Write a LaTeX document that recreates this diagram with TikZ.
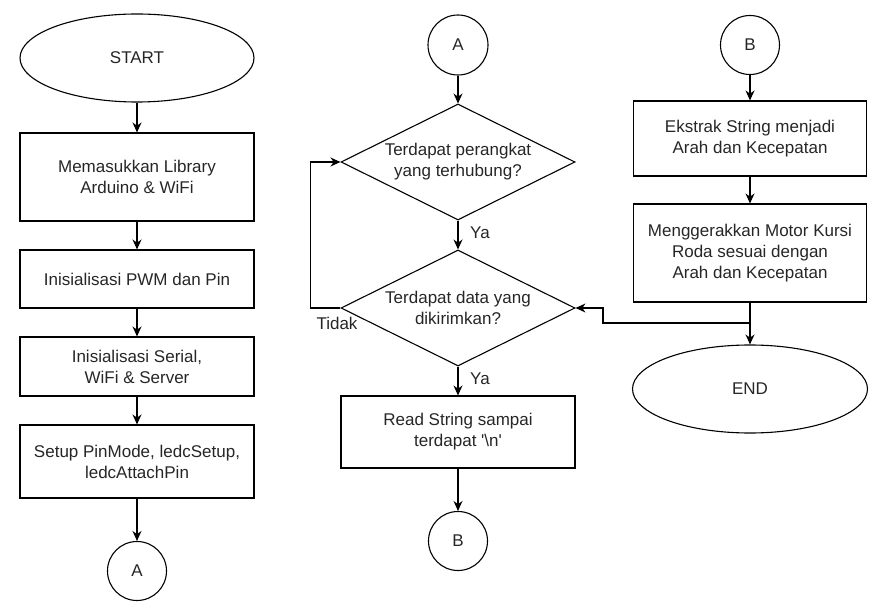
\documentclass[tikz,border=0pt]{standalone}
\usepackage{fontspec}
\newfontfamily\plainsans{Liberation Sans}
\usetikzlibrary{arrows.meta,shapes.geometric}

\begin{document}
\begin{tikzpicture}[x=1pt,y=-1pt,line width=1.1pt,
	every node/.style={font=\plainsans\fontsize{17}{21}\selectfont,text=black!85,align=center},
	proc/.style={draw=black,minimum width=234pt,inner sep=0pt},
	term/.style={draw=black,ellipse,minimum width=234pt,minimum height=88pt,inner sep=0pt},
	conn/.style={draw=black,circle,minimum size=59pt,inner sep=0pt},
	dec/.style={draw=black,diamond,aspect=2.017,minimum width=234pt,minimum height=116pt,inner sep=-6pt},
	arr/.style={-{Stealth[length=10pt,width=9pt]}}]
		\useasboundingbox (0,0) rectangle (886,612);
		\node[term] (v1) at (137,58) {START};
		\node[proc,minimum height=88pt] (v2) at (137,177) {Memasukkan Library\\Arduino \& WiFi};
		\node[proc,minimum height=58pt] (v3) at (137,279) {Inisialisasi PWM dan Pin};
		\node[proc,minimum height=59pt] (v4) at (137,366.5) {Inisialisasi Serial,\\WiFi \& Server};
		\node[proc,minimum height=73pt] (v5) at (137,461.5) {Setup PinMode, ledcSetup,\\ledcAttachPin};
		\node[conn] (v6) at (137,571) {A};
		\node[conn,minimum size=60pt] (v7) at (458,45) {A};
		\node[dec] (v8) at (458,162) {Terdapat perangkat\\yang terhubung?};
		\node[dec] (v9) at (458,308) {Terdapat data yang\\dikirimkan?};
		\node[proc,minimum height=72pt] (v10) at (458,432) {Read String sampai\\terdapat '\textbackslash n'};
		\node[conn] (v11) at (458,541) {B};
		\node[conn] (v12) at (750,45) {B};
		\node[proc,minimum width=233pt,minimum height=75pt] (v13) at (750,138.5) {Ekstrak String menjadi\\Arah dan Kecepatan};
		\node[proc,minimum width=233pt,minimum height=98pt] (v14) at (750,253) {Menggerakkan Motor Kursi\\Roda sesuai dengan\\Arah dan Kecepatan};
		\node[term,minimum width=235pt] (v15) at (750,389) {END};
		\coordinate (c1) at (603,323);
		\draw[arr] (v1) -- (v2);
		\draw[arr] (v2) -- (v3);
		\draw[arr] (v3) -- (v4);
		\draw[arr] (v4) -- (v5);
		\draw[arr] (v5) -- (v6);
		\draw[arr] (v7) -- (v8);
		\draw[arr] (v8) -- (v9);
		\draw[arr] (v9) -- (v10);
		\draw[arr] (v10) -- (v11);
		\draw[arr] (v9.west) -- ++(-30,0) |- (v8.west);
		\draw[arr] (v12) -- (v13);
		\draw[arr] (v13) -- (v14);
		\draw[arr] (v14) -- (v15);
		\draw[arr] (v14.south |- c1) -- (c1) |- (v9.east);
		\node (l1) at (480,233) {Ya};
		\node (l2) at (480,379) {Ya};
		\node (l3) at (337,323) {Tidak};
\end{tikzpicture}
\end{document}
